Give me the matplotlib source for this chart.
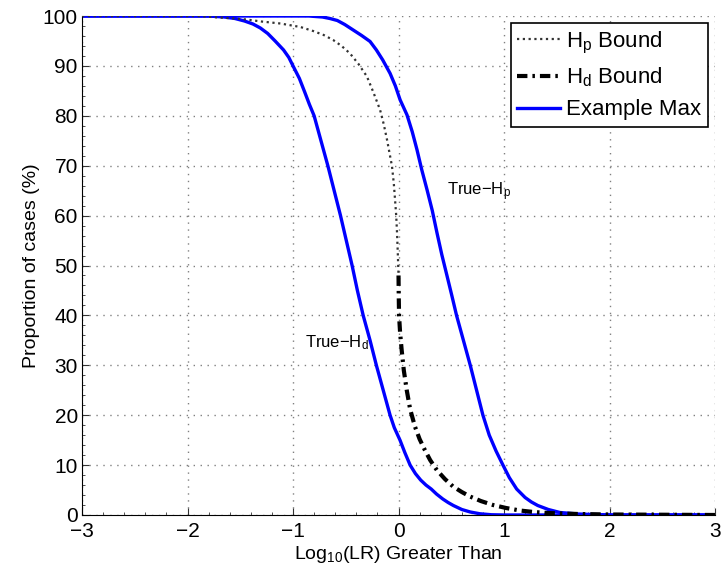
import matplotlib
matplotlib.use("Agg")
import matplotlib.pyplot as plt
from matplotlib.ticker import MultipleLocator

plt.rcParams["font.family"] = ["Liberation Sans", "DejaVu Sans"]
plt.rcParams["mathtext.fontset"] = "custom"
plt.rcParams["mathtext.rm"] = "Liberation Sans"
plt.rcParams["mathtext.it"] = "Liberation Sans"

# ---- values ----
# True-Hd example curve (left blue)
HD_X = [-3.0, -1.8, -1.65, -1.55, -1.46, -1.38, -1.31, -1.24, -1.17, -1.09, -1.04,
        -1.0, -0.94, -0.89, -0.845, -0.80, -0.735, -0.67, -0.61, -0.55, -0.495,
        -0.44, -0.39, -0.335, -0.27, -0.21, -0.145, -0.08, -0.04, 0.014, 0.06,
        0.11, 0.16, 0.21, 0.26, 0.31, 0.36, 0.42, 0.47, 0.52, 0.6, 0.68, 0.77,
        0.88, 1.0, 3.0]
HD_Y = [100, 100, 99.8, 99.5, 99.0, 98.4, 97.6, 96.5, 95.0, 93.2, 91.7,
        90, 87.5, 84.8, 82.3, 80, 75, 70, 65, 60, 55,
        50, 45, 40, 35, 30, 25, 20, 17.5, 15, 12.5,
        10, 8.3, 7.0, 6.0, 5.2, 4.2, 3.2, 2.5, 1.9, 1.1, 0.6, 0.25,
        0.05, 0, 0]
# True-Hp example curve (right blue)
HP_X = [-3.0, -0.85, -0.72, -0.65, -0.58, -0.51, -0.43, -0.35, -0.27, -0.21, -0.15,
        -0.08, -0.03, 0.015, 0.08, 0.13, 0.175, 0.22, 0.27, 0.32, 0.365, 0.41,
        0.46, 0.505, 0.55, 0.615, 0.68, 0.74, 0.80, 0.86, 0.925, 0.99, 1.05,
        1.12, 1.2, 1.26, 1.32, 1.42, 1.53, 1.7, 2.0, 3.0]
HP_Y = [100, 100, 99.8, 99.5, 99.1, 98.3, 97.2, 96.1, 94.9, 93.2, 91.2,
        88.5, 86, 83.2, 80.2, 76.8, 73.2, 69.2, 65.2, 61, 56.5, 52.2,
        47.9, 44, 40, 35, 30, 25, 20, 16, 12.8, 10, 7.5,
        5.2, 3.5, 2.6, 1.9, 1.1, 0.5, 0.2, 0, 0]
# Hp bound (dotted)
HPB_X = [-3.0, -1.9, -1.7, -1.55, -1.44, -1.3, -1.12, -0.93, -0.81, -0.71, -0.62,
         -0.54, -0.46, -0.38, -0.30, -0.24, -0.175, -0.14, -0.109, -0.085, -0.062,
         -0.045, -0.033, -0.022, -0.014, -0.007, 0.0]
HPB_Y = [100, 100, 99.7, 99.5, 99.3, 98.9, 98.5, 97.8, 97.0, 96.2, 95.2,
         94.0, 92.5, 90.4, 87.9, 84.8, 81.2, 78.3, 75.2, 72.5, 69.9,
         66.5, 63.2, 60, 56.5, 52.5, 48]
# Hd bound (dash-dot)
HDB_X = [0.0, 0.002, 0.005, 0.015, 0.03, 0.05, 0.078, 0.11, 0.156, 0.2, 0.25,
         0.3, 0.363, 0.44, 0.517, 0.6, 0.678, 0.78, 0.896, 1.02, 1.15, 1.28,
         1.41, 1.7, 2.0, 2.5, 3.0]
HDB_Y = [48, 44, 40, 36.5, 33, 29, 25, 21.2, 17.7, 15.2, 13,
         11, 9, 7.2, 5.7, 4.6, 3.7, 2.8, 2.0, 1.4, 0.9, 0.6,
         0.4, 0.2, 0.1, 0.05, 0]

fig = plt.figure(figsize=(7.24, 5.74), dpi=100)
ax = fig.add_axes([0.1133, 0.1028, 0.8743, 0.8693])

blue = "#0000ff"
ax.plot(HD_X, HD_Y, color=blue, lw=2.4, zorder=2)
l3, = ax.plot(HP_X, HP_Y, color=blue, lw=2.4, zorder=2, label="Example Max")
l1, = ax.plot(HPB_X, HPB_Y, color="#333333", lw=1.6, ls=(0, (1, 1.6)), zorder=3,
              label=r"H$_\mathregular{p}$ Bound")
l2, = ax.plot(HDB_X, HDB_Y, color="k", lw=3, ls=(0, (2.5, 1.2, 0.6, 1.2)), zorder=3,
              label=r"H$_\mathregular{d}$ Bound")

ax.text(-0.89, 34.6, r"True$-$H$_\mathregular{d}$", fontsize=12, va="center")
ax.text(0.457, 64.7, r"True$-$H$_\mathregular{p}$", fontsize=12, va="center")

ax.set_xlim(-3, 3)
ax.set_ylim(0, 100)
ax.xaxis.set_major_locator(MultipleLocator(1))
ax.yaxis.set_major_locator(MultipleLocator(10))
ax.yaxis.set_minor_locator(MultipleLocator(2))
ax.xaxis.set_minor_locator(MultipleLocator(0.2))
ax.grid(True, which="major", color="#808080", ls=(0, (1, 4)), lw=1.0)
ax.tick_params(which="both", direction="in", labelsize=15, color="#333333")
ax.tick_params(which="major", length=5)
ax.tick_params(which="minor", length=2.5)
ax.tick_params(axis="x", pad=5)
ax.tick_params(axis="y", pad=3)
for s in ("top", "right"):
    ax.spines[s].set_visible(False)

ax.set_xlabel(r"Log$_\mathregular{10}$(LR) Greater Than", fontsize=14, labelpad=2)
ax.set_ylabel("Proportion of cases (%)", fontsize=14, labelpad=2)

leg = ax.legend(handles=[l1, l2, l3], loc="upper right", bbox_to_anchor=(0.989, 0.986),
                fontsize=16, fancybox=False, edgecolor="k", framealpha=1,
                borderaxespad=0, handlelength=1.9, handletextpad=0.3,
                borderpad=0.3, labelspacing=0.45)
leg.get_frame().set_linewidth(1.2)

fig.savefig("out.png", dpi=100)
